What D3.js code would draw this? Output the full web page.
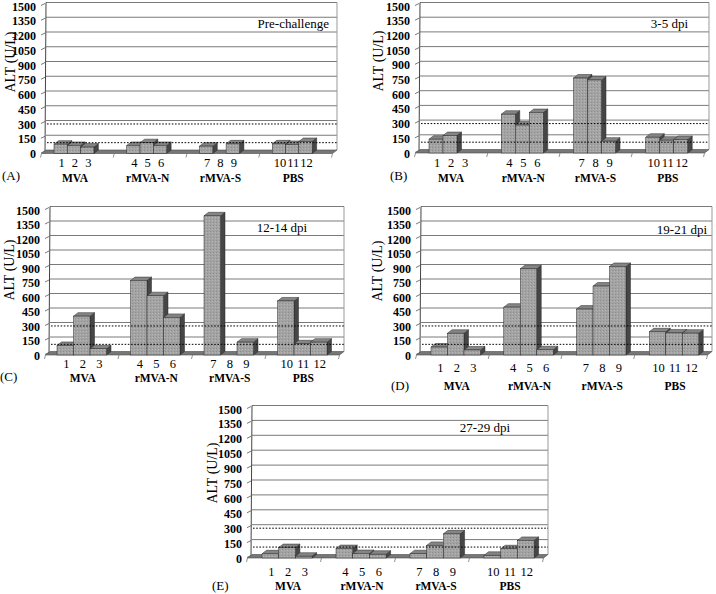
<!DOCTYPE html>
<html><head><meta charset="utf-8">
<script src="https://cdn.jsdelivr.net/npm/d3@7/dist/d3.min.js"></script>
<style>body{margin:0;background:#fff}svg{display:block}</style>
</head><body>
<svg id="chart" width="716" height="594"></svg>
<script>
// ---------- data ----------
const groups = ["MVA", "rMVA-N", "rMVA-S", "PBS"];
const animals = ["1","2","3","4","5","6","7","8","9","10","11","12"];
const yTicks = [0,150,300,450,600,750,900,1050,1200,1350,1500];
const thresholds = [100, 290];
const panelLetters = ["(A)", "(B)", "(C)", "(D)", "(E)"];
const panelTitles = ["Pre-challenge", "3-5 dpi", "12-14 dpi", "19-21 dpi", "27-29 dpi"];
const yAxisTitle = "ALT (U/L)";
const valuesA = [95, 82, 65, 82, 110, 82, 75, null, 98, 98, 92, 122];
const valuesB = [141, 178, null, 396, 285, 413, 765, 745, 121, 161, 131, 138];
const valuesC = [99, 402, 65, 770, 614, 389, 1440, null, 133, 559, 116, 133];
const valuesD = [82, 225, 52, 495, 892, 54, 475, 713, 916, 240, 228, 226];
const valuesE = [42, 105, 18, 95, 45, 38, 43, 127, 243, 27, 93, 177];
const panelValues = [valuesA, valuesB, valuesC, valuesD, valuesE];

// ---------- layout (positions only) ----------
const layouts = [
  {ax:46,  xR:337, yTop:5,   yBot:152.5, off:8,  bw:13.3, numY:167, grpY:181.5, letX:2,   letY:180, titleX:329, titleY:28,  altX:10,  altY:62},
  {ax:420, xR:709, yTop:5,   yBot:152,   off:9,  bw:14,   numY:167, grpY:181.5, letX:390, letY:180, titleX:688, titleY:28,  altX:378, altY:61},
  {ax:50,  xR:344, yTop:209, yBot:354,   off:7,  bw:16.5, numY:367.5, grpY:382, letX:0,   letY:381, titleX:307, titleY:232, altX:9,   altY:270},
  {ax:421, xR:712, yTop:209, yBot:354,   off:10, bw:16.5, numY:371.5, grpY:390, letX:391, letY:390, titleX:707, titleY:234, altX:377, altY:271},
  {ax:252, xR:548, yTop:408, yBot:557,   off:10, bw:16.7, numY:576, grpY:590, letX:212, letY:590, titleX:510, titleY:432, altX:212, altY:473}
];
const dx = 4.5, dy = 3.5;
const serif = "'Liberation Serif','Times New Roman',serif";
const C = {front:"#a3a3a3", top:"#858585", side:"#464646", edge:"#2a2a2a", floor:"#777777", grid:"#7a7a7a"};

const svg = d3.select("#chart");

// stipple pattern to mimic printed texture
const defs = svg.append("defs");
const pat = defs.append("pattern").attr("id","stip").attr("width",3).attr("height",3).attr("patternUnits","userSpaceOnUse");
pat.append("rect").attr("width",3).attr("height",3).attr("fill",C.front);
pat.append("rect").attr("x",0).attr("y",0).attr("width",1).attr("height",1).attr("fill","#8e8e8e");
pat.append("rect").attr("x",2).attr("y",1).attr("width",1).attr("height",1).attr("fill","#b6b6b6");

panelValues.forEach((vals, p) => {
  const L = layouts[p];
  const g = svg.append("g");
  const y = d3.scaleLinear().domain([0, 1500]).range([L.yBot, L.yTop]);
  const xg = d3.scaleBand().domain(groups).range([L.ax, L.xR]).paddingInner(0).paddingOuter(0);
  const xi = d3.scaleBand().domain([0,1,2]).range([L.off, L.off + 3*L.bw]).padding(0);
  const barX = i => xg(groups[Math.floor(i/3)]) + xi(i % 3);
  const yf = v => y(v) + 1;      // front-face level
  const yb = v => y(v) + 1 - dy; // back-wall level

  // back wall gridlines
  g.selectAll("line.grid").data(yTicks.filter(t => t > 0)).join("line")
    .attr("x1", L.ax).attr("x2", L.xR)
    .attr("y1", t => yb(t)).attr("y2", t => yb(t))
    .attr("stroke", C.grid).attr("stroke-width", 1);
  // left wall and right edge
  g.append("line").attr("x1", L.ax).attr("x2", L.ax - 1).attr("y1", yb(1500)).attr("y2", yf(0))
    .attr("stroke", "#444").attr("stroke-width", 1);
  g.append("line").attr("x1", L.xR).attr("x2", L.xR).attr("y1", yb(1500)).attr("y2", yb(0))
    .attr("stroke", "#999").attr("stroke-width", 1);
  // small ticks on the wall
  g.selectAll("line.tk").data(yTicks).join("line")
    .attr("x1", L.ax - 1).attr("x2", L.ax - 5)
    .attr("y1", t => yb(t) + 1).attr("y2", t => yb(t) + 3)
    .attr("stroke", "#555").attr("stroke-width", 0.8);

  // floor
  g.append("path")
    .attr("d", `M${L.ax - dx},${yf(0)} L${L.xR - dx},${yf(0)} L${L.xR},${yb(0)} L${L.ax},${yb(0)} Z`)
    .attr("fill", C.floor).attr("stroke", "#4a4a4a").attr("stroke-width", 0.6);
  // x ticks at group boundaries
  g.selectAll("line.xt").data(d3.range(5)).join("line")
    .attr("x1", k => L.ax - dx + k * xg.bandwidth()).attr("x2", k => L.ax - dx + k * xg.bandwidth() - 1)
    .attr("y1", yf(0)).attr("y2", yf(0) + 4)
    .attr("stroke", "#777").attr("stroke-width", 0.8);

  // bars
  const bars = vals.map((v, i) => ({v, i})).filter(d => d.v != null && d.v > 0);
  const bg = g.selectAll("g.bar").data(bars).join("g");
  bg.append("path").attr("d", d => {
      const x = barX(d.i), w = L.bw, t = yf(d.v), b = yf(0);
      return `M${x+w},${t} L${x+w+dx},${t-dy} L${x+w+dx},${b-dy} L${x+w},${b} Z`;
    }).attr("fill", C.side).attr("stroke", C.edge).attr("stroke-width", 0.5);
  bg.append("path").attr("d", d => {
      const x = barX(d.i), w = L.bw, t = yf(d.v);
      return `M${x},${t} L${x+dx},${t-dy} L${x+w+dx},${t-dy} L${x+w},${t} Z`;
    }).attr("fill", C.top).attr("stroke", C.edge).attr("stroke-width", 0.5);
  bg.append("rect")
    .attr("x", d => barX(d.i)).attr("y", d => yf(d.v))
    .attr("width", L.bw).attr("height", d => yf(0) - yf(d.v))
    .attr("fill", "url(#stip)").attr("stroke", C.edge).attr("stroke-width", 0.5);

  // threshold dotted lines (drawn over bars)
  g.selectAll("line.thr").data(thresholds).join("line")
    .attr("x1", L.ax + 1).attr("x2", L.xR)
    .attr("y1", t => y(t)).attr("y2", t => y(t))
    .attr("stroke", "#000").attr("stroke-width", 1).attr("stroke-dasharray", "1.6,1.6");

  // y tick labels
  g.selectAll("text.yl").data(yTicks).join("text")
    .attr("x", L.ax - 10).attr("y", t => y(t) + 1.5)
    .attr("text-anchor", "end").attr("dominant-baseline", "central")
    .attr("font-family", serif).attr("font-weight", "bold").attr("font-size", 12)
    .text(t => t);

  // y axis title
  g.append("text")
    .attr("transform", `translate(${L.altX},${L.altY}) rotate(-90)`)
    .attr("text-anchor", "middle").attr("dominant-baseline", "central")
    .attr("font-family", serif).attr("font-size", 14).text(yAxisTitle);

  // animal numbers
  g.selectAll("text.num").data(animals).join("text")
    .attr("x", (d, i) => barX(i) + L.bw / 2 + 1).attr("y", L.numY)
    .attr("text-anchor", "middle")
    .attr("font-family", serif).attr("font-size", 12.5).text(d => d);

  // group labels
  g.selectAll("text.grp").data(groups).join("text")
    .attr("x", (d) => xg(d) + xi(1) + L.bw / 2 + 1).attr("y", L.grpY)
    .attr("text-anchor", "middle")
    .attr("font-family", serif).attr("font-weight", "bold").attr("font-size", 11.5).text(d => d);

  // panel letter and title
  g.append("text").attr("x", L.letX).attr("y", L.letY)
    .attr("font-family", serif).attr("font-size", 13).text(panelLetters[p]);
  g.append("text").attr("x", L.titleX).attr("y", L.titleY).attr("text-anchor", "end")
    .attr("font-family", serif).attr("font-size", 13).text(panelTitles[p]);
});
</script>
</body></html>
